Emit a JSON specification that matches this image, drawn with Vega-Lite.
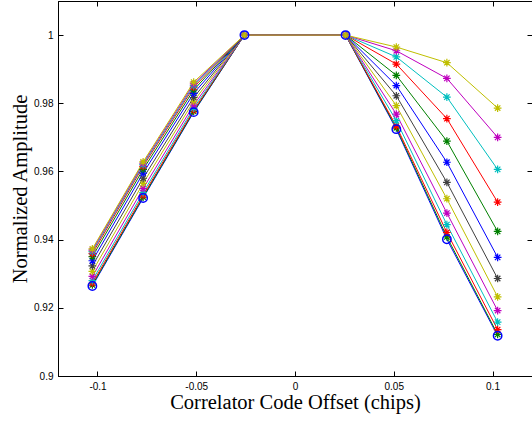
{
 "$schema": "https://vega.github.io/schema/vega-lite/v6.json",
 "width": 474, "height": 375,
 "autosize": {"type": "none"},
 "padding": {"left": 58, "top": 1, "right": 0, "bottom": 46},
 "background": "white",
 "config": {
  "view": {"stroke": "black", "strokeWidth": 1},
  "axis": {"grid": false, "domainColor": "black", "tickColor": "black", "labelColor": "black", "titleColor": "black",
           "labelFont": "Liberation Sans", "labelFontSize": 10, "titleFont": "Liberation Serif", "titleFontSize": 20.5,
           "titleFontWeight": "normal", "tickSize": -5, "labelPadding": 10, "domainWidth": 1}
 },
 "data": {"values": [
  {"s":"s01","x":-0.1026,"y":0.9264},{"s":"s01","x":-0.0769,"y":0.9522},{"s":"s01","x":-0.0513,"y":0.9774},{"s":"s01","x":-0.0256,"y":1},{"s":"s01","x":0.0256,"y":1},{"s":"s01","x":0.0513,"y":0.9724},{"s":"s01","x":0.0769,"y":0.9401},{"s":"s01","x":0.1026,"y":0.9118},
  {"s":"s02","x":-0.1026,"y":0.9267},{"s":"s02","x":-0.0769,"y":0.9525},{"s":"s02","x":-0.0513,"y":0.9776},{"s":"s02","x":-0.0256,"y":1},{"s":"s02","x":0.0256,"y":1},{"s":"s02","x":0.0513,"y":0.9728},{"s":"s02","x":0.0769,"y":0.9408},{"s":"s02","x":0.1026,"y":0.9122},
  {"s":"s03","x":-0.1026,"y":0.9272},{"s":"s03","x":-0.0769,"y":0.953},{"s":"s03","x":-0.0513,"y":0.978},{"s":"s03","x":-0.0256,"y":1},{"s":"s03","x":0.0256,"y":1},{"s":"s03","x":0.0513,"y":0.9733},{"s":"s03","x":0.0769,"y":0.9421},{"s":"s03","x":0.1026,"y":0.9136},
  {"s":"s04","x":-0.1026,"y":0.928},{"s":"s04","x":-0.0769,"y":0.9538},{"s":"s04","x":-0.0513,"y":0.9786},{"s":"s04","x":-0.0256,"y":1},{"s":"s04","x":0.0256,"y":1},{"s":"s04","x":0.0513,"y":0.9749},{"s":"s04","x":0.0769,"y":0.9444},{"s":"s04","x":0.1026,"y":0.9158},
  {"s":"s05","x":-0.1026,"y":0.9292},{"s":"s05","x":-0.0769,"y":0.955},{"s":"s05","x":-0.0513,"y":0.9795},{"s":"s05","x":-0.0256,"y":1},{"s":"s05","x":0.0256,"y":1},{"s":"s05","x":0.0513,"y":0.9768},{"s":"s05","x":0.0769,"y":0.9478},{"s":"s05","x":0.1026,"y":0.9192},
  {"s":"s06","x":-0.1026,"y":0.9307},{"s":"s06","x":-0.0769,"y":0.9565},{"s":"s06","x":-0.0513,"y":0.9806},{"s":"s06","x":-0.0256,"y":1},{"s":"s06","x":0.0256,"y":1},{"s":"s06","x":0.0513,"y":0.9793},{"s":"s06","x":0.0769,"y":0.952},{"s":"s06","x":0.1026,"y":0.9232},
  {"s":"s07","x":-0.1026,"y":0.9323},{"s":"s07","x":-0.0769,"y":0.958},{"s":"s07","x":-0.0513,"y":0.9817},{"s":"s07","x":-0.0256,"y":1},{"s":"s07","x":0.0256,"y":1},{"s":"s07","x":0.0513,"y":0.9822},{"s":"s07","x":0.0769,"y":0.9568},{"s":"s07","x":0.1026,"y":0.9286},
  {"s":"s08","x":-0.1026,"y":0.9338},{"s":"s08","x":-0.0769,"y":0.9595},{"s":"s08","x":-0.0513,"y":0.9829},{"s":"s08","x":-0.0256,"y":1},{"s":"s08","x":0.0256,"y":1},{"s":"s08","x":0.0513,"y":0.9852},{"s":"s08","x":0.0769,"y":0.9627},{"s":"s08","x":0.1026,"y":0.9348},
  {"s":"s09","x":-0.1026,"y":0.935},{"s":"s09","x":-0.0769,"y":0.9606},{"s":"s09","x":-0.0513,"y":0.9839},{"s":"s09","x":-0.0256,"y":1},{"s":"s09","x":0.0256,"y":1},{"s":"s09","x":0.0513,"y":0.9882},{"s":"s09","x":0.0769,"y":0.9689},{"s":"s09","x":0.1026,"y":0.9424},
  {"s":"s10","x":-0.1026,"y":0.9359},{"s":"s10","x":-0.0769,"y":0.9615},{"s":"s10","x":-0.0513,"y":0.9847},{"s":"s10","x":-0.0256,"y":1},{"s":"s10","x":0.0256,"y":1},{"s":"s10","x":0.0513,"y":0.9915},{"s":"s10","x":0.0769,"y":0.9755},{"s":"s10","x":0.1026,"y":0.951},
  {"s":"s11","x":-0.1026,"y":0.9365},{"s":"s11","x":-0.0769,"y":0.962},{"s":"s11","x":-0.0513,"y":0.9852},{"s":"s11","x":-0.0256,"y":1},{"s":"s11","x":0.0256,"y":1},{"s":"s11","x":0.0513,"y":0.9936},{"s":"s11","x":0.0769,"y":0.9818},{"s":"s11","x":0.1026,"y":0.9606},
  {"s":"s12","x":-0.1026,"y":0.9369},{"s":"s12","x":-0.0769,"y":0.9624},{"s":"s12","x":-0.0513,"y":0.9857},{"s":"s12","x":-0.0256,"y":1},{"s":"s12","x":0.0256,"y":1},{"s":"s12","x":0.0513,"y":0.9954},{"s":"s12","x":0.0769,"y":0.9873},{"s":"s12","x":0.1026,"y":0.97},
  {"s":"s13","x":-0.1026,"y":0.9373},{"s":"s13","x":-0.0769,"y":0.9628},{"s":"s13","x":-0.0513,"y":0.9862},{"s":"s13","x":-0.0256,"y":1},{"s":"s13","x":0.0256,"y":1},{"s":"s13","x":0.0513,"y":0.9965},{"s":"s13","x":0.0769,"y":0.9919},{"s":"s13","x":0.1026,"y":0.9786}
 ]},
 "layer": [
  {
   "mark": {"type": "line", "strokeWidth": 1, "clip": true},
   "encoding": {
    "x": {"field": "x", "type": "quantitative", "scale": {"domain": [-0.12, 0.12], "nice": false, "zero": false},
          "axis": {"orient": "bottom", "values": [-0.1, -0.05, 0, 0.05, 0.1], "format": "~g", "labelExpr": "replace(datum.label, '\u2212', '-')", "title": "Correlator Code Offset (chips)", "titlePadding": 1}},
    "y": {"field": "y", "type": "quantitative", "scale": {"domain": [0.9, 1.01], "nice": false, "zero": false},
          "axis": {"orient": "left", "values": [0.9, 0.92, 0.94, 0.96, 0.98, 1], "format": "~g", "title": "Normalized Amplitude", "titlePadding": 3}},
    "color": {"field": "s", "type": "nominal", "legend": null,
              "scale": {"domain": ["s01","s02","s03","s04","s05","s06","s07","s08","s09","s10","s11","s12","s13"],
                        "range": ["#0000ff","#008000","#ff0000","#00bfbf","#bf00bf","#bfbf00","#404040","#0000ff","#008000","#ff0000","#00bfbf","#bf00bf","#bfbf00"]}}
   }
  },
  {
   "transform": [{"filter": "datum.s != 's01'"}],
   "mark": {"type": "point", "shape": "M-1,0H1M0,-1V1M-0.7,-0.7L0.7,0.7M-0.7,0.7L0.7,-0.7", "filled": false, "size": 60, "strokeWidth": 1.2, "opacity": 1},
   "encoding": {
    "x": {"field": "x", "type": "quantitative", "axis": {"orient": "top", "values": [-0.1, -0.05, 0, 0.05, 0.1], "labels": false, "title": null}},
    "y": {"field": "y", "type": "quantitative", "axis": {"orient": "right", "values": [0.9, 0.92, 0.94, 0.96, 0.98, 1], "labels": false, "title": null}},
    "color": {"field": "s", "type": "nominal", "legend": null}
   }
  },
  {
   "transform": [{"filter": "datum.s == 's01'"}],
   "mark": {"type": "point", "shape": "circle", "filled": false, "size": 70, "strokeWidth": 1.5, "opacity": 1},
   "encoding": {
    "x": {"field": "x", "type": "quantitative", "axis": null},
    "y": {"field": "y", "type": "quantitative", "axis": null},
    "color": {"field": "s", "type": "nominal", "legend": null}
   }
  }
 ],
 "resolve": {"axis": {"x": "independent", "y": "independent"}}
}
